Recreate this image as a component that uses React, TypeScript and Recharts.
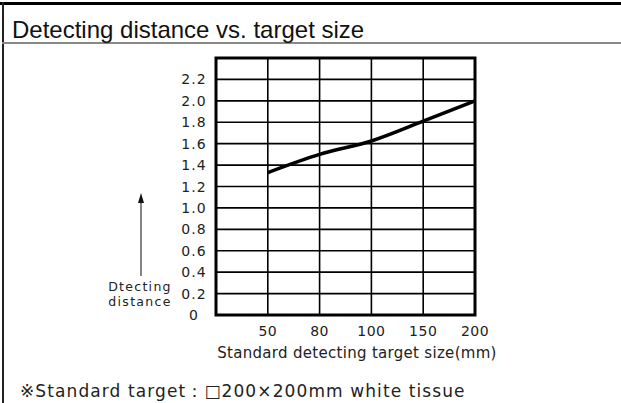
import React from "react";
import { LineChart, Line, XAxis, YAxis, CartesianGrid, ReferenceArea } from "recharts";

const titleText = "Detecting distance vs. target size";
const sizeLabels = ["50", "80", "100", "150", "200"];
const sizePositions = [1, 2, 3, 4, 5];
const distances = [1.33, 1.5, 1.625, 1.81, 2.0];
const yTicks = [0, 0.2, 0.4, 0.6, 0.8, 1.0, 1.2, 1.4, 1.6, 1.8, 2.0, 2.2, 2.4];
const yTickLabels = ["0", "0.2", "0.4", "0.6", "0.8", "1.0", "1.2", "1.4", "1.6", "1.8", "2.0", "2.2", ""];
const xTicks = [0, 1, 2, 3, 4, 5];
const yAxisTitle = ["Dtecting", "distance"];
const xAxisTitle = "Standard detecting target size(mm)";
const noteText = "※Standard target：□200×200mm white tissue";

const data = sizePositions.map((p, i) => ({ x: p, label: sizeLabels[i], d: distances[i] }));

const smallFont = "'DejaVu Sans', sans-serif";

const YTick = (props: any) => {
  const { y, index } = props;
  return (
    <text
      x={194}
      y={y}
      textAnchor="middle"
      dominantBaseline="central"
      fontFamily={smallFont}
      fontSize={14}
      letterSpacing={1}
      fill="#222"
    >
      {yTickLabels[index] ?? ""}
    </text>
  );
};

export default function App() {
  return (
    <div
      style={{
        position: "absolute",
        left: 0,
        top: 0,
        width: 621,
        height: 403,
        background: "#fff",
        overflow: "hidden",
      }}
    >
      {/* frame */}
      <div style={{ position: "absolute", left: 0, top: 2, width: 621, height: 3, background: "#000" }} />
      <div style={{ position: "absolute", left: 2, top: 2, width: 2, height: 401, background: "#222" }} />
      <div style={{ position: "absolute", left: 2, top: 42, width: 619, height: 2, background: "#888" }} />
      <div
        style={{
          position: "absolute",
          left: 12,
          top: 16,
          fontFamily: "'Liberation Sans', Arial, sans-serif",
          fontSize: 24,
          lineHeight: "28px",
          color: "#111",
          whiteSpace: "nowrap",
        }}
      >
        {titleText}
      </div>

      <div style={{ position: "absolute", left: 0, top: 0 }}>
        <LineChart width={621} height={403} data={data} margin={{ top: 58, right: 146, bottom: 58, left: 156 }}>
          <CartesianGrid stroke="#000" strokeWidth={1.6} />
          <XAxis
            dataKey="x"
            type="number"
            domain={[0, 5]}
            ticks={xTicks}
            tickFormatter={(v: number) => (v === 0 ? "" : sizeLabels[v - 1])}
            axisLine={false}
            tickLine={false}
            tickMargin={5}
            height={30}
            tick={{ fontSize: 14, fill: "#222", fontFamily: "DejaVu Sans", letterSpacing: 0.5 }}
          />
          <YAxis
            type="number"
            domain={[0, 2.4]}
            ticks={yTicks}
            axisLine={false}
            tickLine={false}
            width={60}
            interval={0}
            tick={<YTick />}
          />
          <ReferenceArea x1={0} x2={5} y1={0} y2={2.4} fill="none" fillOpacity={0} stroke="#000" strokeWidth={3} ifOverflow="visible" />
          <Line type="monotone" dataKey="d" stroke="#000" strokeWidth={3.5} dot={false} isAnimationActive={false} />
        </LineChart>
      </div>

      {/* y axis title + arrow, x axis title, note */}
      <svg style={{ position: "absolute", left: 0, top: 0 }} width={621} height={403}>
        <line x1={141} y1={276} x2={141} y2={200} stroke="#333" strokeWidth={1.2} />
        <polygon points="141,193 138,203 144,203" fill="#111" />
        <text x={140} y={286} textAnchor="middle" dominantBaseline="central" fontFamily={smallFont} fontSize={12.5} letterSpacing={1.3} fill="#222">
          {yAxisTitle[0]}
        </text>
        <text x={140} y={301} textAnchor="middle" dominantBaseline="central" fontFamily={smallFont} fontSize={12.5} letterSpacing={1.3} fill="#222">
          {yAxisTitle[1]}
        </text>
        <text x={357} y={353} textAnchor="middle" dominantBaseline="central" fontFamily={smallFont} fontSize={15} letterSpacing={0.3} fill="#222">
          {xAxisTitle}
        </text>
        <text x={20} y={391} dominantBaseline="central" fontFamily={smallFont} fontSize={17} letterSpacing={1.1} fill="#222">
          {noteText}
        </text>
      </svg>
    </div>
  );
}
